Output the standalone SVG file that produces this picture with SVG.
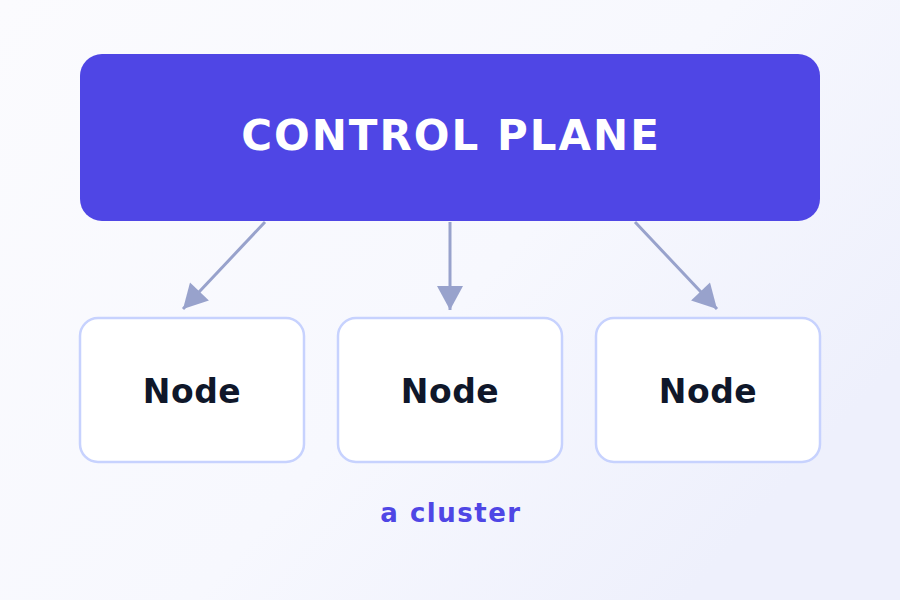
<svg xmlns="http://www.w3.org/2000/svg" width="900" height="600" viewBox="0 0 900 600">
  <defs>
    <linearGradient id="bg" x1="0" y1="0" x2="1" y2="0.6">
      <stop offset="0" stop-color="#fbfbfe"/>
      <stop offset="0.6" stop-color="#f7f8fe"/>
      <stop offset="1" stop-color="#eef0fc"/>
    </linearGradient>
    <marker id="arrow" markerUnits="userSpaceOnUse" markerWidth="26" markerHeight="26" viewBox="0 0 24 26" refX="24" refY="13" orient="auto">
      <path d="M0,0 L24,13 L0,26 Z" fill="#98a2cc"/>
    </marker>
    <style>
      .node rect { fill: #ffffff; stroke: #c7d2fe; stroke-width: 2.5; }
      .node text { font-family: "DejaVu Sans", sans-serif; font-weight: bold; font-size: 33px; fill: #0f172a; text-anchor: middle; letter-spacing: 0.5px; }
      .edge { stroke: #98a2cc; stroke-width: 3; fill: none; marker-end: url(#arrow); }
    </style>
  </defs>
  <rect x="0" y="0" width="900" height="600" fill="url(#bg)"/>
  <g id="control-plane">
    <rect x="80" y="54" width="740" height="167" rx="22" fill="#4f46e5"/>
    <text x="451" y="150" font-family="DejaVu Sans, sans-serif" font-weight="bold" font-size="42" fill="#ffffff" text-anchor="middle" letter-spacing="2">CONTROL PLANE</text>
  </g>
  <g id="connectors">
    <line class="edge" x1="265" y1="222" x2="183" y2="309"/>
    <line class="edge" x1="450" y1="222" x2="450" y2="310"/>
    <line class="edge" x1="635" y1="222" x2="717" y2="309"/>
  </g>
  <g id="node-1" class="node">
    <rect x="80" y="318" width="224" height="144" rx="18"/>
    <text x="192" y="403">Node</text>
  </g>
  <g id="node-2" class="node">
    <rect x="338" y="318" width="224" height="144" rx="18"/>
    <text x="450" y="403">Node</text>
  </g>
  <g id="node-3" class="node">
    <rect x="596" y="318" width="224" height="144" rx="18"/>
    <text x="708" y="403">Node</text>
  </g>
  <text id="caption" x="451" y="522" font-family="DejaVu Sans, sans-serif" font-weight="bold" font-size="26" fill="#4f46e5" text-anchor="middle" letter-spacing="1.5">a cluster</text>
</svg>
